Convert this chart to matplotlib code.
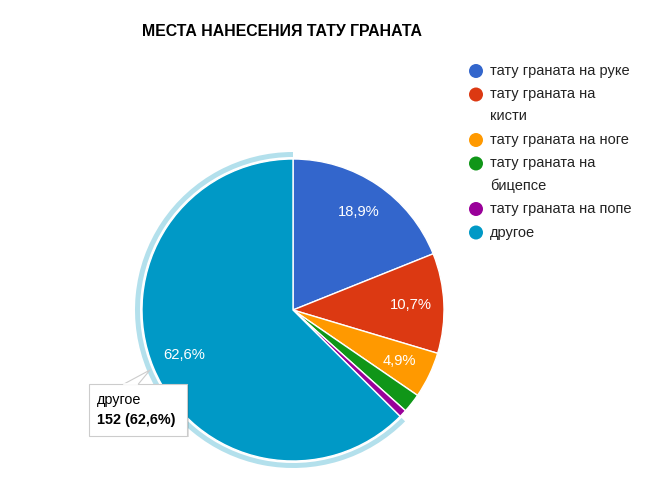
import textwrap
import matplotlib
matplotlib.use("Agg")
import matplotlib.pyplot as plt
from matplotlib.patches import Wedge, Rectangle, Polygon, Circle

title = "МЕСТА НАНЕСЕНИЯ ТАТУ ГРАНАТА"
categories = ["тату граната на руке", "тату граната на кисти", "тату граната на ноге",
              "тату граната на бицепсе", "тату граната на попе", "другое"]
counts = [46, 26, 12, 5, 2, 152]
colors = ["#3366cc", "#dc3912", "#ff9900", "#109618", "#990099", "#0099c6"]
highlight_index = 5

W, H = 653, 490
plt.rcParams['font.family'] = ['Liberation Sans', 'DejaVu Sans']
fig = plt.figure(figsize=(W / 100, H / 100), dpi=100)
ax = fig.add_axes([0, 0, 1, 1])

def Y(y):
    return H - y

cx, cy, R = 293, 310, 151
total = sum(counts)

def pct_fmt(p):
    if p < 3:
        return ""
    return f"{p:.1f}%".replace(".", ",")

wedges, texts, autotexts = ax.pie(
    counts, colors=colors, startangle=90, counterclock=False,
    center=(cx, Y(cy)), radius=R, autopct=pct_fmt, pctdistance=0.78,
    wedgeprops=dict(edgecolor="white", linewidth=1.0),
    textprops=dict(color="white", fontsize=10.6))

# highlight ring around selected slice
w = wedges[highlight_index]
ring = Wedge((cx, Y(cy)), R + 7, w.theta1, w.theta2, width=5,
             facecolor="#b3e0ec", edgecolor="none")
ax.add_patch(ring)

ax.set_xlim(0, W)
ax.set_ylim(0, H)
ax.set_aspect("equal")
ax.axis("off")

# title
ax.text(281.5, Y(32), title, fontsize=11.4, fontweight="bold", color="#000000",
        ha="center", va="center")

# legend
leg_y = 71
for lab, col in zip(categories, colors):
    lines = textwrap.wrap(lab, 20)
    ax.add_patch(Circle((476, Y(leg_y)), 7, facecolor=col, edgecolor="none"))
    for k, ln in enumerate(lines):
        ax.text(490, Y(leg_y + 22 * k), ln, fontsize=10.5, color="#222222",
                ha="left", va="center")
    leg_y += 22 * len(lines) + 1.5

# tooltip
x0, y0, x1, y1 = 89, 384, 187, 436
ax.add_patch(Rectangle((x0 + 1.5, Y(y1) - 1.5), x1 - x0, y1 - y0,
                       facecolor="#000000", alpha=0.12, edgecolor="none"))
ax.add_patch(Rectangle((x0, Y(y1)), x1 - x0, y1 - y0,
                       facecolor="white", edgecolor="#cccccc", linewidth=0.8))
ax.add_patch(Polygon([(123, Y(384.5)), (150, Y(370)), (138, Y(384.5))],
                     closed=False, facecolor="white", edgecolor="#cccccc", linewidth=0.8))
ax.plot([123.6, 137.4], [Y(384), Y(384)], color="white", linewidth=1.2)
ax.text(97, Y(400), categories[highlight_index], fontsize=10.4, color="#000000",
        ha="left", va="center")
pv = counts[highlight_index] / total * 100
ax.text(97, Y(420), f"{counts[highlight_index]} ({pv:.1f}%)".replace(".", ","),
        fontsize=10.4, fontweight="bold", color="#000000", ha="left", va="center")

fig.savefig("out.png", dpi=100)
